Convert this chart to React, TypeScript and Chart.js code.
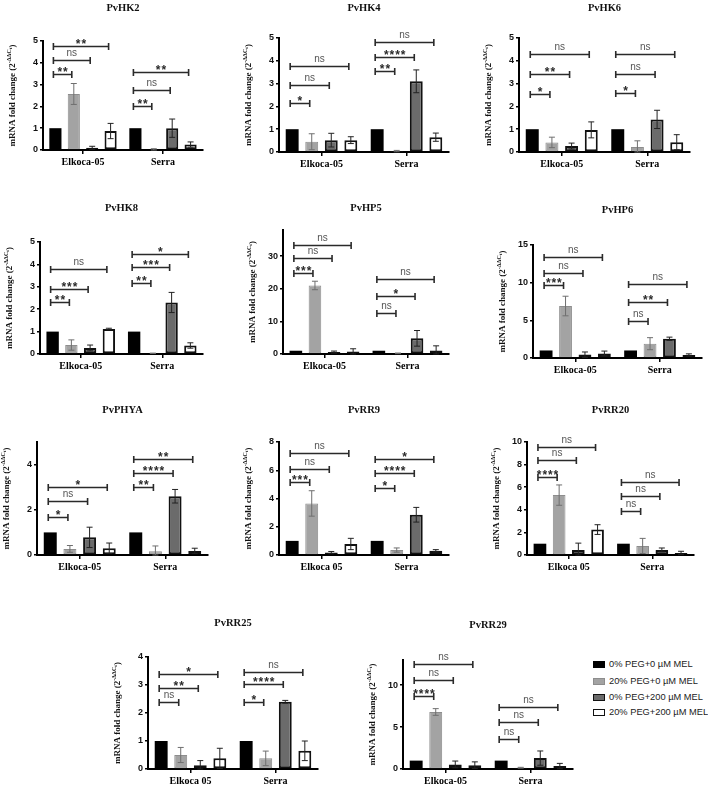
import React, { useEffect, useRef } from "react";
import { Chart, registerables } from "chart.js";
Chart.register(...registerables);

// ---------- DATA ----------
const SERIES = ["0% PEG+0 µM MEL", "20% PEG+0 µM MEL", "0% PEG+200 µM MEL", "20% PEG+200 µM MEL"];
const CAT_DASH = ["Elkoca-05", "Serra"];
const CAT_SPACE = ["Elkoca 05", "Serra"];

// means / errors: [series][group]; brackets: [group][comparison]
const HK2_MEAN = [[1, 1], [2.57, 0.03], [0.1, 1.0], [0.87, 0.25]];
const HK2_ERR = [[0, 0], [0.48, 0.03], [0.07, 0.42], [0.35, 0.12]];
const HK2_SIG_Y = [[3.47, 4.12, 4.76], [2.0, 2.77, 3.58]];
const HK2_SIG = [["**", "ns", "**"], ["**", "ns", "**"]];

const HK4_MEAN = [[1, 1], [0.45, 0.04], [0.52, 3.1], [0.52, 0.65]];
const HK4_ERR = [[0, 0], [0.35, 0.03], [0.3, 0.5], [0.15, 0.18]];
const HK4_SIG_Y = [[2.16, 2.94, 3.79], [3.54, 4.17, 4.81]];
const HK4_SIG = [["*", "ns", "ns"], ["**", "****", "ns"]];

const HK6_MEAN = [[1, 1], [0.42, 0.22], [0.26, 1.43], [0.97, 0.43]];
const HK6_ERR = [[0, 0], [0.23, 0.27], [0.13, 0.4], [0.35, 0.33]];
const HK6_SIG_Y = [[2.54, 3.43, 4.31], [2.57, 3.4, 4.29]];
const HK6_SIG = [["*", "**", "ns"], ["*", "ns", "ns"]];

const HK8_MEAN = [[1, 1], [0.4, 0.03], [0.27, 2.3], [1.12, 0.38]];
const HK8_ERR = [[0, 0], [0.23, 0.01], [0.13, 0.45], [0.03, 0.12]];
const HK8_SIG_Y = [[2.3, 2.92, 3.78], [3.19, 3.87, 4.48]];
const HK8_SIG = [["**", "***", "ns"], ["**", "***", "*"]];

const HP5_MEAN = [[1, 1], [21, 0.2], [0.6, 4.8], [0.8, 1.1]];
const HP5_ERR = [[0, 0], [1.3, 0.1], [0.3, 2.4], [0.8, 1.4]];
const HP5_SIG_Y = [[24.9, 29.3, 33.5], [12.6, 17.9, 22.9]];
const HP5_SIG = [["***", "ns", "ns"], ["ns", "*", "ns"]];

const HP6_MEAN = [[1, 1], [6.9, 1.9], [0.45, 2.55], [0.6, 0.4]];
const HP6_ERR = [[0, 0], [1.3, 0.8], [0.35, 0.22], [0.32, 0.15]];
const HP6_SIG_Y = [[9.7, 11.3, 13.4], [4.93, 7.5, 9.8]];
const HP6_SIG = [["***", "ns", "ns"], ["ns", "**", "ns"]];

const PHYA_MEAN = [[1, 1], [0.27, 0.17], [0.78, 2.6], [0.3, 0.18]];
const PHYA_ERR = [[0, 0], [0.15, 0.23], [0.45, 0.3], [0.23, 0.12]];
const PHYA_SIG_Y = [[1.7, 2.37, 3.03], [3.03, 3.62, 4.25]];
const PHYA_SIG = [["*", "ns", "*"], ["**", "****", "**"]];

const RR9_MEAN = [[1, 1], [3.65, 0.35], [0.17, 2.85], [0.78, 0.3]];
const RR9_ERR = [[0, 0], [0.9, 0.15], [0.08, 0.52], [0.4, 0.08]];
const RR9_SIG_Y = [[5.2, 6.1, 7.2], [4.74, 5.8, 6.8]];
const RR9_SIG = [["***", "ns", "ns"], ["*", "****", "*"]];

const RR20_MEAN = [[1, 1], [5.3, 0.8], [0.45, 0.45], [2.25, 0.18]];
const RR20_ERR = [[0, 0], [0.9, 0.67], [0.6, 0.17], [0.43, 0.15]];
const RR20_SIG_Y = [[6.9, 8.38, 9.56], [3.86, 5.19, 6.49]];
const RR20_SIG = [["****", "ns", "ns"], ["ns", "ns", "ns"]];

const RR25_MEAN = [[1, 1], [0.5, 0.38], [0.13, 2.4], [0.38, 0.65]];
const RR25_ERR = [[0, 0], [0.27, 0.26], [0.17, 0.05], [0.36, 0.35]];
const RR25_SIG_Y = [[2.38, 2.88, 3.38], [2.4, 3.02, 3.45]];
const RR25_SIG = [["ns", "**", "*"], ["*", "****", "ns"]];

const RR29_MEAN = [[1, 1], [6.8, 0.15], [0.55, 1.3], [0.45, 0.35]];
const RR29_ERR = [[0, 0], [0.4, 0.05], [0.4, 0.85], [0.4, 0.32]];
const RR29_SIG_Y = [[8.73, 10.63, 12.5], [3.57, 5.63, 7.42]];
const RR29_SIG = [["****", "ns", "ns"], ["ns", "ns", "ns"]];

// ---------- STYLE / LAYOUT ----------
const FILL = ["#000000", "#a3a3a3", "#6b6b6b", "#ffffff"];
const EDGE = ["#000000", "#8d8d8d", "#111111", "#111111"];
const BW = [0, 1, 2, 2];
const ERRC = ["#000000", "#6f6f6f", "#222222", "#222222"];

// x: axis left, xe: axis right, yt: pixel of max, y0: pixel of zero, ty: title centre
const LAYOUT = [
  { x: 43, xe: 203, yt: 41, y0: 150, ty: 8 },
  { x: 279, xe: 449, yt: 38, y0: 152, ty: 8 },
  { x: 519, xe: 690, yt: 38, y0: 152, ty: 8 },
  { x: 40, xe: 203, yt: 242, y0: 354, ty: 208 },
  { x: 283, xe: 449, yt: 230, y0: 354, ty: 208 },
  { x: 533, xe: 702, yt: 245, y0: 358, ty: 210 },
  { x: 37, xe: 208, yt: 442, y0: 555, ty: 410 },
  { x: 279, xe: 449, yt: 442, y0: 555, ty: 410 },
  { x: 527, xe: 694, yt: 442, y0: 555, ty: 410 },
  { x: 148, xe: 318, yt: 657, y0: 769, ty: 623 },
  { x: 403, xe: 573, yt: 660, y0: 769, ty: 625 },
];

const PANELS = [
  { title: "PvHK2", cats: CAT_DASH, mean: HK2_MEAN, err: HK2_ERR, sigY: HK2_SIG_Y, sig: HK2_SIG, max: 5, step: 1 },
  { title: "PvHK4", cats: CAT_DASH, mean: HK4_MEAN, err: HK4_ERR, sigY: HK4_SIG_Y, sig: HK4_SIG, max: 5, step: 1 },
  { title: "PvHK6", cats: CAT_DASH, mean: HK6_MEAN, err: HK6_ERR, sigY: HK6_SIG_Y, sig: HK6_SIG, max: 5, step: 1 },
  { title: "PvHK8", cats: CAT_DASH, mean: HK8_MEAN, err: HK8_ERR, sigY: HK8_SIG_Y, sig: HK8_SIG, max: 5, step: 1 },
  { title: "PvHP5", cats: CAT_DASH, mean: HP5_MEAN, err: HP5_ERR, sigY: HP5_SIG_Y, sig: HP5_SIG, max: 38, step: 10 },
  { title: "PvHP6", cats: CAT_DASH, mean: HP6_MEAN, err: HP6_ERR, sigY: HP6_SIG_Y, sig: HP6_SIG, max: 15, step: 5 },
  { title: "PvPHYA", cats: CAT_DASH, mean: PHYA_MEAN, err: PHYA_ERR, sigY: PHYA_SIG_Y, sig: PHYA_SIG, max: 5, step: 2 },
  { title: "PvRR9", cats: CAT_SPACE, mean: RR9_MEAN, err: RR9_ERR, sigY: RR9_SIG_Y, sig: RR9_SIG, max: 8, step: 2 },
  { title: "PvRR20", cats: CAT_SPACE, mean: RR20_MEAN, err: RR20_ERR, sigY: RR20_SIG_Y, sig: RR20_SIG, max: 10, step: 2 },
  { title: "PvRR25", cats: CAT_SPACE, mean: RR25_MEAN, err: RR25_ERR, sigY: RR25_SIG_Y, sig: RR25_SIG, max: 4, step: 1 },
  { title: "PvRR29", cats: CAT_DASH, mean: RR29_MEAN, err: RR29_ERR, sigY: RR29_SIG_Y, sig: RR29_SIG, max: 13, step: 5 },
];

const SERIF = '"Liberation Serif", "Times New Roman", serif';
const SANS = '"Liberation Sans", Arial, sans-serif';

function makeDecor(p: any, L: any, top: number) {
  return {
    id: "decor",
    afterDatasetsDraw(chart: any) {
      const ctx = chart.ctx;
      const ys = chart.scales.y;
      ctx.save();
      // error bars
      for (let s = 0; s < 4; s++) {
        const meta = chart.getDatasetMeta(s);
        for (let g = 0; g < 2; g++) {
          const m = p.mean[s][g];
          const e = p.err[s][g];
          if (!e) continue;
          const x = meta.data[g].x;
          const yHi = ys.getPixelForValue(m + e);
          const yLo = ys.getPixelForValue(Math.max(0, m - e));
          ctx.strokeStyle = ERRC[s];
          ctx.lineWidth = 1;
          ctx.beginPath();
          ctx.moveTo(x, yLo);
          ctx.lineTo(x, yHi);
          ctx.moveTo(x - 3, yHi);
          ctx.lineTo(x + 3, yHi);
          ctx.moveTo(x - 3, yLo);
          ctx.lineTo(x + 3, yLo);
          ctx.stroke();
        }
      }
      // significance brackets
      for (let g = 0; g < 2; g++) {
        const x0 = chart.getDatasetMeta(0).data[g].x - 2;
        for (let k = 0; k < 3; k++) {
          const x1 = chart.getDatasetMeta(k + 1).data[g].x - 2;
          const y = Math.round(ys.getPixelForValue(p.sigY[g][k])) + 0.5;
          ctx.strokeStyle = "#2a2a2a";
          ctx.lineWidth = 1.6;
          ctx.beginPath();
          ctx.moveTo(x0, y);
          ctx.lineTo(x1, y);
          ctx.moveTo(x0, y - 3.5);
          ctx.lineTo(x0, y + 3.5);
          ctx.moveTo(x1, y - 3.5);
          ctx.lineTo(x1, y + 3.5);
          ctx.stroke();
          const label = p.sig[g][k];
          ctx.textAlign = "center";
          ctx.textBaseline = "alphabetic";
          const xm = (x0 + x1) / 2;
          if (label === "ns") {
            ctx.font = `10px ${SANS}`;
            ctx.fillStyle = "#555555";
            ctx.fillText(label, xm, y - 4.5);
          } else {
            ctx.font = `bold 12px ${SANS}`;
            ctx.fillStyle = "#2a2a2a";
            const n = label.length;
            const gap = 5.6;
            for (let i = 0; i < n; i++) {
              ctx.fillText("*", xm + (i - (n - 1) / 2) * gap, y + 1);
            }
          }
        }
      }
      ctx.restore();
    },
    afterDraw(chart: any) {
      const ctx = chart.ctx;
      const ca = chart.chartArea;
      ctx.save();
      // title
      ctx.font = `bold 10.5px ${SERIF}`;
      ctx.fillStyle = "#111";
      ctx.textAlign = "center";
      ctx.textBaseline = "middle";
      ctx.fillText(p.title, (ca.left + ca.right) / 2, L.ty - top);
      // y-axis label with superscript
      const parts = [
        { t: "mRNA fold change (2", f: `bold 9px ${SERIF}`, dy: 0 },
        { t: "-ΔΔC", f: `bold 6px ${SERIF}`, dy: -3.5 },
        { t: "t", f: `bold 5px ${SERIF}`, dy: -2 },
        { t: ")", f: `bold 9px ${SERIF}`, dy: 0 },
      ];
      let total = 0;
      const widths = parts.map((pt) => {
        ctx.font = pt.f;
        const w = ctx.measureText(pt.t).width;
        total += w;
        return w;
      });
      ctx.translate(ca.left - 31, (ca.top + ca.bottom) / 2);
      ctx.rotate(-Math.PI / 2);
      ctx.textAlign = "left";
      ctx.textBaseline = "middle";
      let cx = -total / 2;
      parts.forEach((pt, i) => {
        ctx.font = pt.f;
        ctx.fillText(pt.t, cx, pt.dy + 1);
        cx += widths[i];
      });
      ctx.restore();
    },
  };
}

function Panel({ p, L }: { p: any; L: any }) {
  const ref = useRef<HTMLCanvasElement>(null);
  const left = L.x - 44;
  const right = L.xe + 6;
  const top = L.ty - 9;
  const bottom = L.y0 + 24;
  const w = right - left;
  const h = bottom - top;
  useEffect(() => {
    const chart = new Chart(ref.current as HTMLCanvasElement, {
      type: "bar",
      data: {
        labels: p.cats,
        datasets: SERIES.map((name, s) => ({
          label: name,
          data: p.mean[s],
          backgroundColor: FILL[s],
          borderColor: EDGE[s],
          borderWidth: BW[s],
          borderSkipped: false,
          barPercentage: 0.66,
          categoryPercentage: 0.92,
        })),
      },
      options: {
        responsive: false,
        maintainAspectRatio: false,
        animation: false,
        layout: {
          autoPadding: false,
          padding: { top: L.yt - top, right: right - L.xe, left: 0, bottom: 0 },
        },
        plugins: {
          legend: { display: false },
          title: { display: false },
          tooltip: { enabled: false },
        },
        scales: {
          x: {
            grid: { display: true, drawOnChartArea: false, drawTicks: true, tickLength: 4, offset: false, color: "#000", lineWidth: 1.5 },
            border: { display: true, color: "#000", width: 2 },
            ticks: { font: { family: SERIF, size: 10, weight: "bold" }, color: "#000", padding: 2, maxRotation: 0, autoSkip: false },
            afterFit: (s: any) => {
              s.height = bottom - L.y0;
            },
          },
          y: {
            min: 0,
            max: p.max,
            grid: { display: true, drawOnChartArea: false, drawTicks: true, tickLength: 3, color: "#000", lineWidth: 1.5 },
            border: { display: true, color: "#000", width: 2 },
            ticks: { stepSize: p.step, font: { family: SANS, size: 9, weight: "bold" }, color: "#111", padding: 2 },
            afterBuildTicks: (s: any) => {
              s.ticks = s.ticks.filter((t: any) => Math.abs(t.value / p.step - Math.round(t.value / p.step)) < 1e-6);
            },
            afterFit: (s: any) => {
              s.width = L.x - left;
            },
          },
        },
      } as any,
      plugins: [makeDecor(p, L, top)],
    });
    return () => chart.destroy();
  }, []);
  return <canvas ref={ref} width={w} height={h} style={{ position: "absolute", left, top, width: w, height: h }} />;
}

const LEGEND_Y = [664, 681, 697, 712];

export default function App() {
  return (
    <div style={{ position: "absolute", left: 0, top: 0, width: 708, height: 785, background: "#fff", overflow: "hidden" }}>
      {PANELS.map((p, i) => (
        <Panel key={p.title} p={p} L={LAYOUT[i]} />
      ))}
      {SERIES.map((name, s) => (
        <React.Fragment key={name}>
          <div
            style={{
              position: "absolute",
              left: 593,
              top: LEGEND_Y[s] - 3.5,
              width: 12,
              height: 7,
              boxSizing: "border-box",
              background: FILL[s],
              border: `${s === 0 ? 1 : 1.5}px solid ${EDGE[s]}`,
            }}
          />
          <div
            style={{
              position: "absolute",
              left: 609,
              top: LEGEND_Y[s] - 6,
              height: 12,
              lineHeight: "12px",
              fontFamily: SANS,
              fontSize: 9.3,
              color: "#222",
              whiteSpace: "nowrap",
            }}
          >
            {name}
          </div>
        </React.Fragment>
      ))}
    </div>
  );
}
